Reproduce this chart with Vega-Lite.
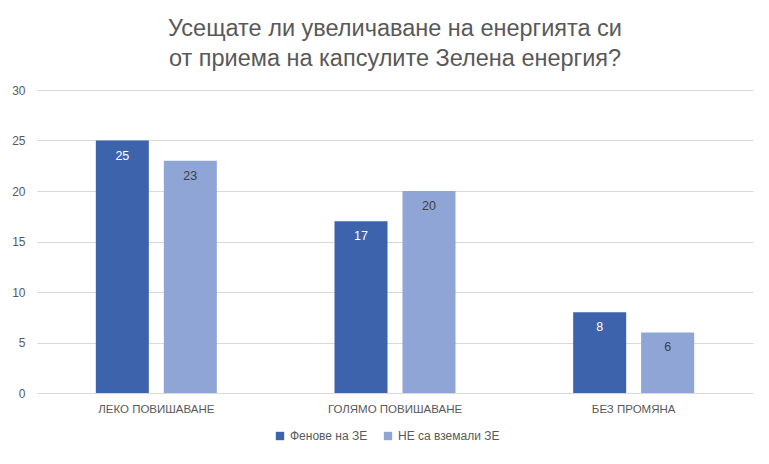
{
  "$schema": "https://vega.github.io/schema/vega-lite/v6.json",
  "autosize": {"type": "none"},
  "width": 716,
  "height": 303,
  "padding": {"left": 37, "top": 90, "right": 16, "bottom": 71},
  "background": "white",
  "config": {
    "font": "Liberation Sans",
    "view": {"stroke": null}
  },
  "title": {
    "text": ["Усещате ли увеличаване на енергията си", "от приема на капсулите Зелена енергия?"],
    "fontSize": 23.5,
    "fontWeight": "normal",
    "color": "#595959",
    "anchor": "middle",
    "lineHeight": 30,
    "offset": 14
  },
  "data": {
    "values": [
      {"category": "ЛЕКО ПОВИШАВАНЕ", "series": "Фенове на ЗЕ", "value": 25},
      {"category": "ЛЕКО ПОВИШАВАНЕ", "series": "НЕ са вземали ЗЕ", "value": 23},
      {"category": "ГОЛЯМО ПОВИШАВАНЕ", "series": "Фенове на ЗЕ", "value": 17},
      {"category": "ГОЛЯМО ПОВИШАВАНЕ", "series": "НЕ са вземали ЗЕ", "value": 20},
      {"category": "БЕЗ ПРОМЯНА", "series": "Фенове на ЗЕ", "value": 8},
      {"category": "БЕЗ ПРОМЯНА", "series": "НЕ са вземали ЗЕ", "value": 6}
    ]
  },
  "encoding": {
    "x": {
      "field": "category",
      "type": "nominal",
      "sort": null,
      "scale": {"paddingInner": 0.493, "paddingOuter": 0.2465},
      "axis": {
        "title": null,
        "labelAngle": 0,
        "labelColor": "#595959",
        "labelFontSize": 11.5,
        "labelPadding": 10,
        "ticks": false,
        "domainColor": "#d9d9d9",
        "grid": false
      }
    },
    "xOffset": {
      "field": "series",
      "type": "nominal",
      "sort": ["Фенове на ЗЕ", "НЕ са вземали ЗЕ"],
      "scale": {"paddingInner": 0.22, "paddingOuter": 0}
    },
    "y": {
      "field": "value",
      "type": "quantitative",
      "scale": {"domain": [0, 30], "nice": false},
      "axis": {
        "title": null,
        "values": [0, 5, 10, 15, 20, 25, 30],
        "labelColor": "#595959",
        "labelFontSize": 12,
        "labelPadding": 12,
        "ticks": false,
        "domain": false,
        "gridColor": "#d9d9d9"
      }
    }
  },
  "layer": [
    {
      "mark": {"type": "bar"},
      "encoding": {
        "color": {
          "field": "series",
          "type": "nominal",
          "scale": {"domain": ["Фенове на ЗЕ", "НЕ са вземали ЗЕ"], "range": ["#3D63AD", "#8FA5D6"]},
          "legend": {
            "title": null,
            "orient": "none",
            "legendX": 237,
            "legendY": 340,
            "direction": "horizontal",
            "symbolType": "square",
            "symbolSize": 70,
            "symbolStrokeWidth": 0,
            "labelColor": "#595959",
            "labelFontSize": 12,
            "columnPadding": 14
          }
        }
      }
    },
    {
      "mark": {"type": "text", "baseline": "middle", "dy": 15, "fontSize": 12.5},
      "encoding": {
        "text": {"field": "value", "type": "quantitative"},
        "color": {
          "field": "series",
          "type": "nominal",
          "scale": {"domain": ["Фенове на ЗЕ", "НЕ са вземали ЗЕ"], "range": ["#ffffff", "#404040"]},
          "legend": null
        }
      }
    }
  ],
  "resolve": {"scale": {"color": "independent"}}
}
